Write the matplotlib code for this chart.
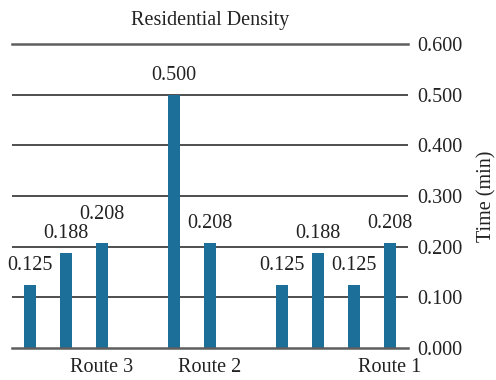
import matplotlib
matplotlib.use("Agg")
import matplotlib.pyplot as plt

# Travel times per segment; None marks the spacing between route groups
times = [0.125, 0.188, 0.208, None, 0.500, 0.208, None, 0.125, 0.188, 0.125, 0.208]
value_labels = ["0.125", "0.188", "0.208", None, "0.500", "0.208", None,
                "0.125", "0.188", "0.125", "0.208"]
route_names = ["Route 3", "Route 2", "Route 1"]
route_slots = [2, 5, 10]
y_ticks = [0.0, 0.1, 0.2, 0.3, 0.4, 0.5, 0.6]

plt.rcParams["font.family"] = ["Liberation Serif", "DejaVu Serif"]
FS = 14.5
TXT = "#222222"
bar_color = "#1b6f98"

fig = plt.figure(figsize=(4.96, 3.80), dpi=100)
ax = fig.add_axes([12 / 496, 1 - 348 / 380, 396 / 496, 304 / 380])

xs = [i for i, v in enumerate(times) if v is not None]
vals = [v for v in times if v is not None]
labs = [l for l in value_labels if l is not None]
ax.bar(xs, vals, width=1 / 3, color=bar_color, zorder=3)

# value labels sit above each bar; the third one is lifted to clear its neighbour
lifts = [0, 0, 6.5, 0, 0, 0, 0, 0, 0]
for x, v, l, lift in zip(xs, vals, labs, lifts):
    ax.annotate(l, (x, v), xytext=(0, 10.8 + lift), textcoords="offset points",
                ha="center", va="baseline", fontsize=FS, color=TXT)

ax.set_xlim(-0.5, len(times) - 0.5)
ax.set_ylim(0, 0.6)

ax.yaxis.tick_right()
ax.yaxis.set_label_position("right")
ax.set_yticks(y_ticks)
ax.set_yticklabels([f"{t:.3f}" for t in y_ticks])
ax.tick_params(axis="y", length=0, pad=7, labelsize=FS, labelcolor=TXT)
ax.set_ylabel("Time (min)", fontsize=FS, color=TXT, labelpad=10)

ax.set_xticks(route_slots)
ax.set_xticklabels(route_names)
ax.tick_params(axis="x", length=0, pad=7, labelsize=FS, labelcolor=TXT)

for s in ["left", "right"]:
    ax.spines[s].set_visible(False)
for s in ["top", "bottom"]:
    ax.spines[s].set_color("#5e5e5e")
    ax.spines[s].set_linewidth(1.8)
ax.spines["bottom"].set_zorder(4)

for t in y_ticks[1:-1]:
    ax.axhline(t, color="#1e1e1e", lw=1.1, zorder=1)

ax.set_title("Residential Density", fontsize=FS, color=TXT, pad=13.5)

fig.savefig("out.png", dpi=100)
